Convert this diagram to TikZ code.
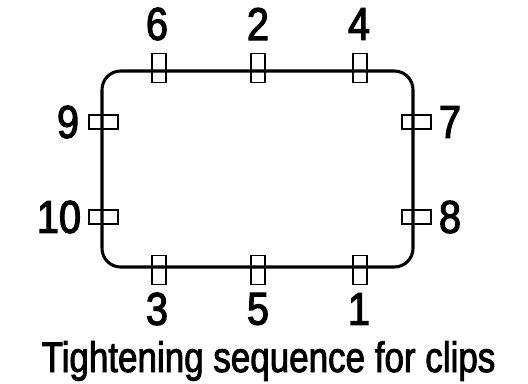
\documentclass[tikz,border=0pt]{standalone}
\usepackage{fontspec}
\setmainfont{Liberation Sans}
\newfontfamily\numfont[FakeStretch=0.86,FakeBold=2.6]{Liberation Sans}
\newfontfamily\titlefont[FakeStretch=0.82,FakeBold=2]{Liberation Sans}
\begin{document}
\begin{tikzpicture}[x=0.75pt,y=-0.75pt,
  panel/.style={draw,line width=2.3pt,rounded corners=14pt,minimum width=233.25pt,minimum height=147pt,inner sep=0pt},
  vclip/.style={draw,line width=1pt,minimum width=10.5pt,minimum height=21.75pt,inner sep=0pt},
  hclip/.style={draw,line width=1pt,minimum width=21.75pt,minimum height=10.5pt,inner sep=0pt},
  num/.style={inner sep=0pt,font=\numfont\fontsize{34.5}{35}\selectfont},
  title/.style={inner sep=0pt,anchor=base,font=\titlefont\fontsize{32}{33}\selectfont}]
\path[use as bounding box] (0,0) rectangle (528,383);
\node[panel] (box) at (257.5,169) {};
% top clips
\node[vclip] (c6) at (159,68) {};
\node[vclip] (c2) at (258,68) {};
\node[vclip] (c4) at (360,68) {};
% bottom clips
\node[vclip] (c3) at (159,270) {};
\node[vclip] (c5) at (258,270) {};
\node[vclip] (c1) at (360,270) {};
% side clips
\node[hclip] (c9) at (103.5,122) {};
\node[hclip] (c10) at (103.5,217) {};
\node[hclip] (c7) at (416.5,122) {};
\node[hclip] (c8) at (416.5,217) {};
% labels
\node[num] (l6) at (157,24) {6};
\node[num] (l2) at (258,24) {2};
\node[num] (l4) at (359,24) {4};
\node[num] (l3) at (157,309) {3};
\node[num] (l5) at (258,309) {5};
\node[num] (l1) at (359,309) {1};
\node[num] (l9) at (68,122) {9};
\node[num] (l10) at (59,217) {10};
\node[num] (l7) at (450,122) {7};
\node[num] (l8) at (450,217) {8};
\node[title] (t) at (268.5,372) {Tightening sequence for clips};
\end{tikzpicture}
\end{document}
